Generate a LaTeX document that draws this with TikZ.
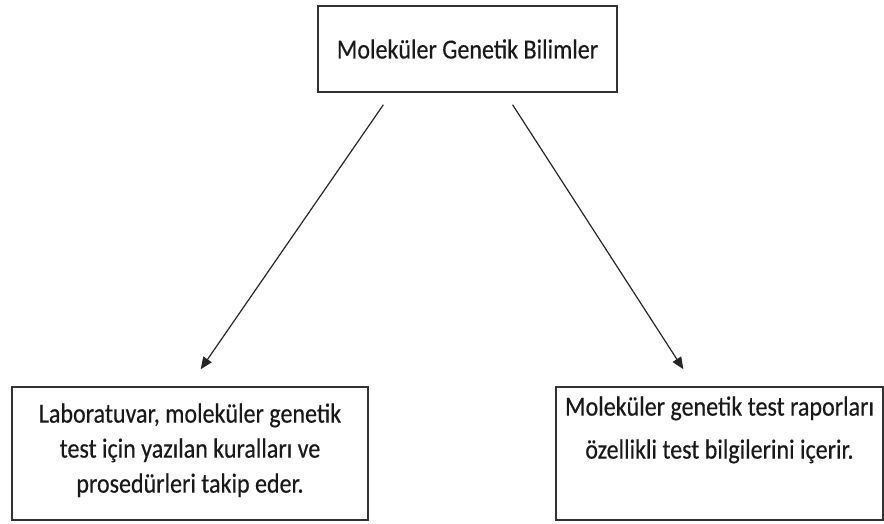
\documentclass[tikz,border=0pt]{standalone}
\usepackage{fontspec}
\setmainfont{Carlito}[FakeStretch=0.87, FakeBold=0.4]
\usetikzlibrary{arrows.meta, positioning, calc}

\begin{document}
\begin{tikzpicture}[
    x=1pt, y=-1pt,
    % Styles
    box/.style={rectangle, draw=black!80, line width=1.5pt, inner sep=0pt, align=center, font=\fontsize{27.6}{35}\selectfont},
    txt/.style={inner sep=0pt, align=center, text=black!90},
    arrow/.style={-{Triangle[length=12pt, width=10pt]}, line width=1.2pt, black!85},
]
\useasboundingbox (0,0) rectangle (884,524);

% === Boxes ===
\node[box, text=black!90, minimum width=299pt, minimum height=86pt] (baslik) at (467.5,49) {Moleküler Genetik Bilimler};
\node[box, minimum width=356pt, minimum height=133pt] (lab) at (190,453.5) {};
\node[box, minimum width=327pt, minimum height=133pt] (rapor) at (719.5,453.5) {};

% === Box texts ===
\node[txt, font=\fontsize{27.6}{35}\selectfont, anchor=north] (labyazi) at ([yshift=-17pt]lab.north) {Laboratuvar, moleküler genetik\\test için yazılan kuralları ve\\prosedürleri takip eder.};
\node[txt, font=\fontsize{27.6}{43}\selectfont, anchor=north] (raporyazi) at ([yshift=-10pt]rapor.north) {Moleküler genetik test raporları\\özellikli test bilgilerini içerir.};

% === Arrows ===
\draw[arrow] ([yshift=-12pt]$(baslik.south west)!0.22!(baslik.south east)$) -- ([yshift=17pt]$(lab.north west)!0.53!(lab.north east)$);
\draw[arrow] ([yshift=-12pt]$(baslik.south west)!0.65!(baslik.south east)$) -- ([yshift=17pt]$(rapor.north west)!0.39!(rapor.north east)$);

\end{tikzpicture}
\end{document}
